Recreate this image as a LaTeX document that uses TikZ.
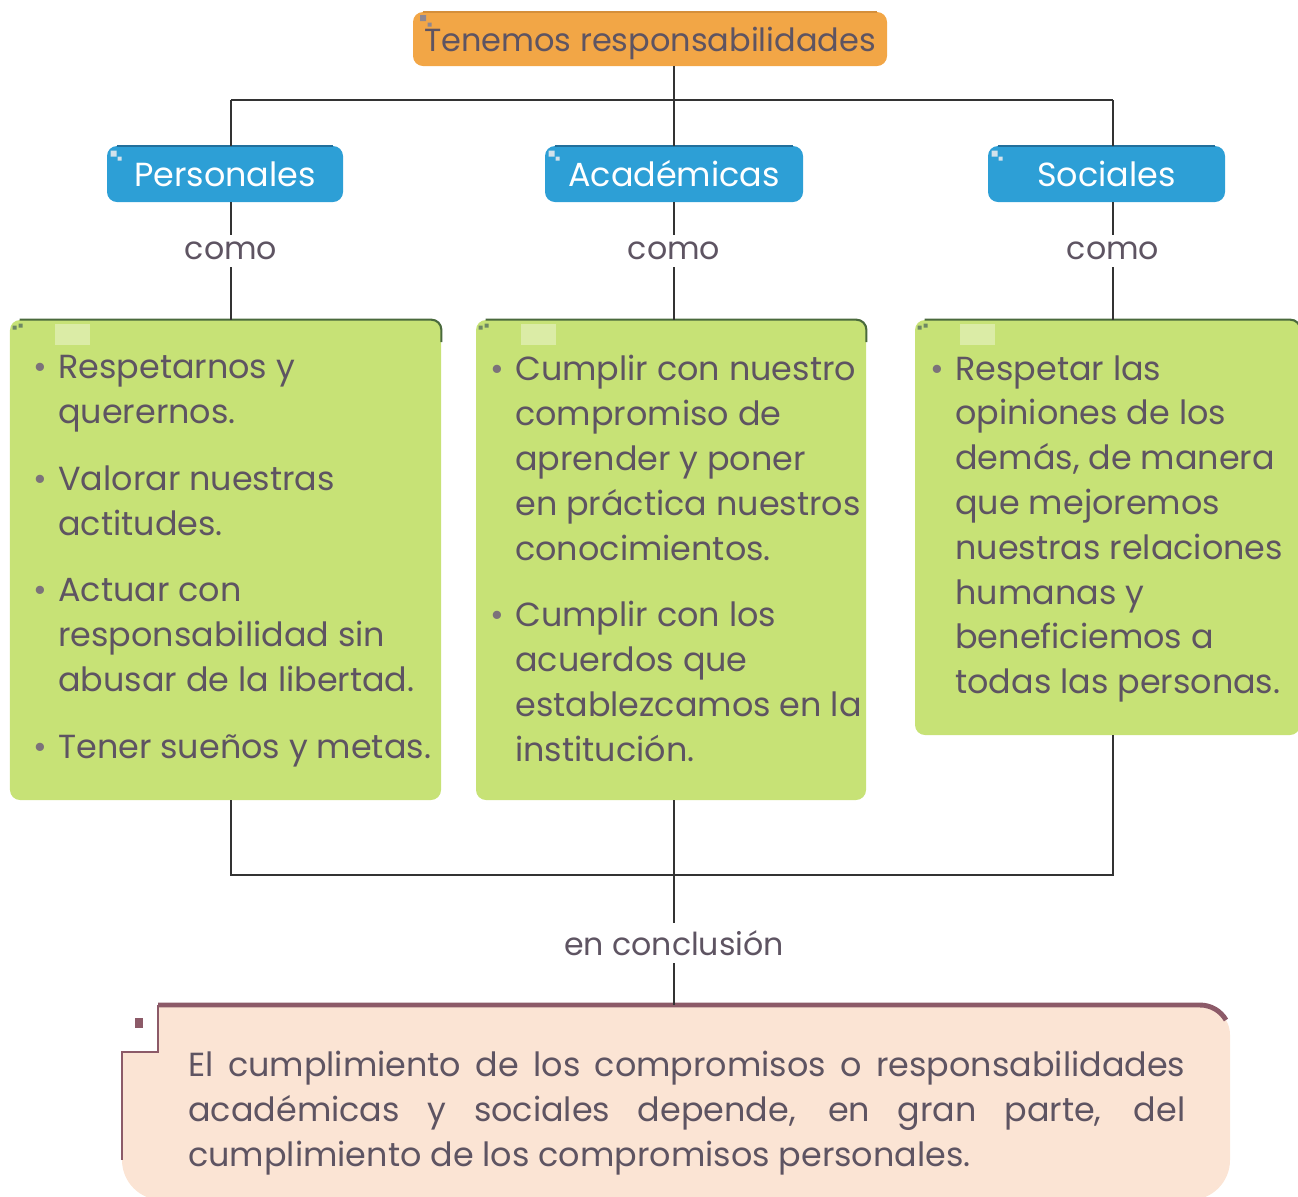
\documentclass[tikz,border=0pt]{standalone}
\usepackage{fontspec}
\setmainfont{Poppins}
\usetikzlibrary{positioning,calc}

\definecolor{orangeT}{HTML}{F2A646}
\definecolor{orangeE}{HTML}{D58F3A}
\definecolor{blueB}{HTML}{2D9FD6}
\definecolor{blueE}{HTML}{22709C}
\definecolor{greenB}{HTML}{C7E276}
\definecolor{greenE}{HTML}{4A6A3C}
\definecolor{pinkB}{HTML}{FBE4D4}
\definecolor{pinkE}{HTML}{8C5A68}
\definecolor{txt}{HTML}{5E5462}
\definecolor{bulletC}{HTML}{7C727A}
\definecolor{lineC}{HTML}{333333}

\newcommand{\listfont}{\fontsize{19}{25.5}\selectfont}
\newcommand{\headfont}{\fontsize{19}{23}\selectfont}
\newcommand{\linkfont}{\fontsize{18}{22}\selectfont}
\newcommand{\blt}{\makebox[0.5cm][l]{\textcolor{bulletC}{•}}}
\newcommand{\ind}{\hspace*{0.5cm}}

\begin{document}
\begin{tikzpicture}[
  box/.style={rounded corners=0.2cm, inner sep=0pt},
  headbox/.style={box, fill=blueB, text=white, font=\headfont, minimum height=1.12cm, text height=0.5cm, text depth=0cm},
  listbox/.style={box, fill=greenB},
  listtext/.style={anchor=north west, inner sep=0pt, align=left, text=txt, font=\listfont},
  topedge/.style={line width=1.2pt},
  link/.style={draw=lineC, line width=1pt},
  linklabel/.style={text=txt, font=\linkfont, inner sep=4pt}
]
\useasboundingbox (0,0) rectangle (25.96,-23.92);

% title and the three kinds
\node[headbox, fill=orangeT, text=txt, minimum width=9.48cm, minimum height=1.08cm, font=\fontsize{18.2}{22}\selectfont] (title) at (13.0,-0.78) {Tenemos responsabilidades};
\node[headbox, minimum width=4.72cm] (per) at (4.5,-3.48) {Personales};
\node[headbox, minimum width=5.16cm] (aca) at (13.48,-3.48) {Académicas};
\node[headbox, minimum width=4.74cm] (soc) at (22.13,-3.48) {Sociales};
\draw[topedge, orangeE] ([xshift=0.2cm]title.north west) -- ([xshift=-0.2cm]title.north east);
\foreach \n in {per,aca,soc}
  \draw[topedge, blueE] ([xshift=0.2cm]\n.north west) -- ([xshift=-0.2cm]\n.north east);
\fill[txt!70] (8.40,-0.30) rectangle (8.52,-0.42) (8.55,-0.45) rectangle (8.63,-0.53);
\foreach \n in {per,aca,soc}
  \fill[white!80!blueE] ([shift={(0.08,-0.1)}]\n.north west) rectangle ++(0.12,-0.12) ++(0.02,0) rectangle ++(0.08,-0.08);

% lists
\node[listbox, minimum width=8.62cm, minimum height=9.6cm] (g1) at (4.51,-11.2) {};
\node[listbox, minimum width=7.8cm, minimum height=9.6cm] (g2) at (13.42,-11.2) {};
\node[listbox, minimum width=7.7cm, minimum height=8.3cm] (g3) at (22.15,-10.55) {};
\foreach \n in {g1,g2,g3} {
  \draw[topedge, greenE] ([xshift=0.2cm]\n.north west) -- ([xshift=-0.2cm]\n.north east) arc[start angle=90, end angle=0, radius=0.2] -- ++(0,-0.25);
  \fill[white!35!greenB] ([shift={(0.9,-0.08)}]\n.north west) rectangle ++(0.7,-0.42);
  \fill[greenE!80] ([shift={(0.06,-0.12)}]\n.north west) rectangle ++(0.08,-0.08) ++(0.04,0.12) rectangle ++(0.08,-0.08);
}

\node[listtext] (t1) at (0.66,-7.1) {\blt Respetarnos y\\ \ind querernos.\\[12.5pt]
  \blt Valorar nuestras\\ \ind actitudes.\\[12.5pt]
  \blt Actuar con\\ \ind responsabilidad sin\\ \ind abusar de la libertad.\\[12.5pt]
  \blt Tener sueños y metas.};
\node[listtext] (t2) at (9.80,-7.1) {\blt Cumplir con nuestro\\ \ind compromiso de\\ \ind aprender y poner\\ \ind en práctica nuestros\\ \ind conocimientos.\\[12.5pt]
  \blt Cumplir con los\\ \ind acuerdos que\\ \ind establezcamos en la\\ \ind institución.};
\node[listtext] (t3) at (18.60,-7.1) {\blt Respetar las\\ \ind opiniones de los\\ \ind demás, de manera\\ \ind que mejoremos\\ \ind nuestras relaciones\\ \ind humanas y\\ \ind beneficiemos a\\ \ind todas las personas.};

% conclusion box
\fill[pinkB] (2.44,-23.2) -- (2.44,-21.04) -- (3.16,-21.04) -- (3.16,-20.1) -- (24.0,-20.1)
  arc[start angle=90, end angle=0, radius=0.6] -- (24.6,-23.2) arc[start angle=0, end angle=-90, radius=0.8]
  -- (3.24,-24.0) arc[start angle=270, end angle=180, radius=0.8] -- cycle;
\draw[pinkE, line width=1.4pt] (2.44,-23.2) -- (2.44,-21.04) -- (3.16,-21.04) -- (3.16,-20.1);
\draw[pinkE, line width=2.8pt] (3.16,-20.1) -- (24.0,-20.1) arc[start angle=90, end angle=30, radius=0.6];
\fill[pinkE] (2.7,-20.36) rectangle (2.86,-20.56);
\node[anchor=north west, inner sep=0pt, text width=19.94cm, align=justify, text=txt, font=\listfont] (concl) at (3.76,-21.02)
  {El cumplimiento de los compromisos o responsabilidades\linebreak académicas y sociales depende, en gran parte, del\linebreak cumplimiento de los compromisos personales.};

% connectors
\coordinate (jl) at (4.62,-2.0);
\coordinate (jm) at (13.48,-2.0);
\coordinate (jr) at (22.26,-2.0);
\coordinate (kl) at (4.62,-17.5);
\coordinate (km) at (13.48,-17.5);
\coordinate (kr) at (22.26,-17.5);
\coordinate (ctop) at (13.48,-20.1);
\node[linklabel] (como1) at (4.62,-5.02) {como};
\node[linklabel] (como2) at (13.48,-5.02) {como};
\node[linklabel] (como3) at (22.26,-5.02) {como};
\node[linklabel] (encl) at (13.48,-18.86) {en conclusión};

\draw[link] (title.south -| jm) -- (jm);
\draw[link] (jl) -- (jr);
\draw[link] (jl) -- (per.north -| jl);
\draw[link] (jm) -- (aca.north -| jm);
\draw[link] (jr) -- (soc.north -| jr);
\draw[link] (per.south -| jl) -- (como1) -- (g1.north -| jl);
\draw[link] (aca.south -| jm) -- (como2) -- (g2.north -| jm);
\draw[link] (soc.south -| jr) -- (como3) -- (g3.north -| jr);
\draw[link] (g1.south -| kl) -- (kl) -- (kr) -- (g3.south -| kr);
\draw[link] (g2.south -| km) -- (km) -- (encl) -- (ctop);
\end{tikzpicture}
\end{document}
